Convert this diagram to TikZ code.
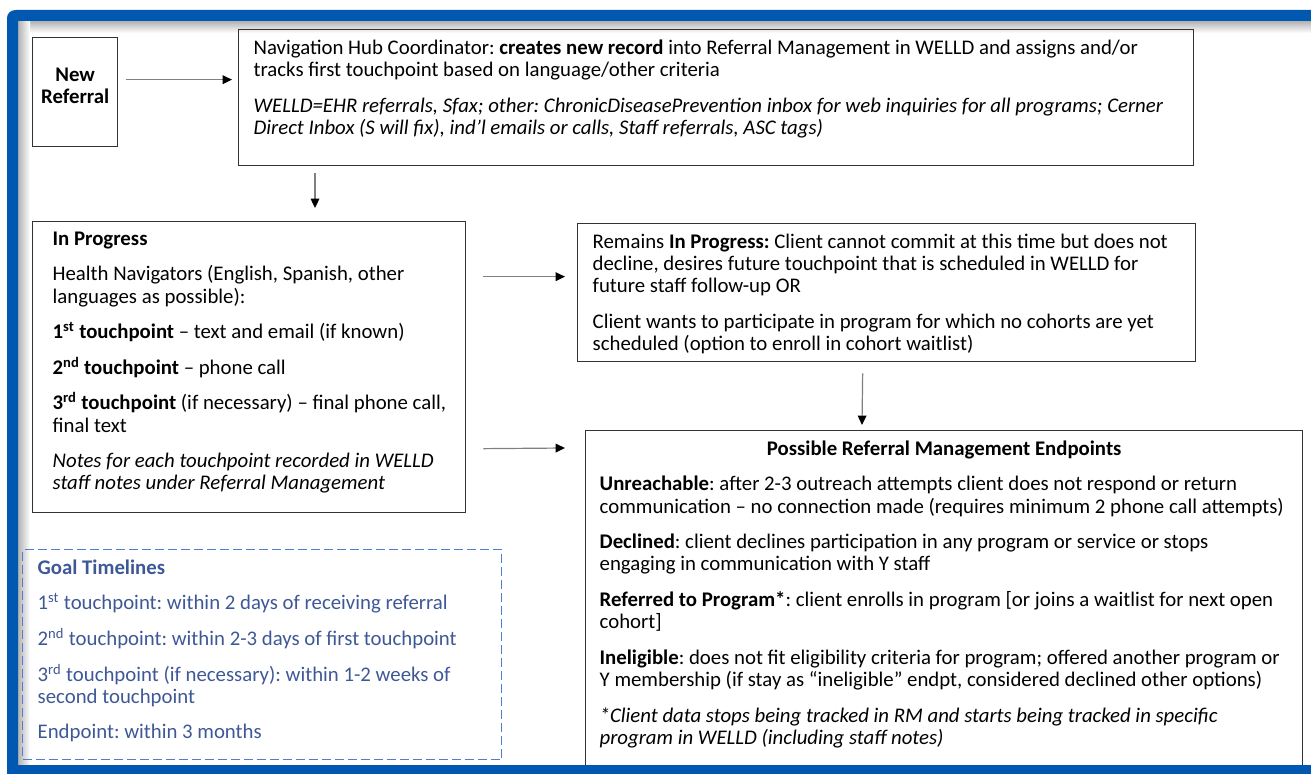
\documentclass[tikz,border=0pt]{standalone}
\usepackage{fontspec}
\setmainfont{Carlito}
\usetikzlibrary{arrows.meta,calc,positioning}
\definecolor{frameblue}{RGB}{0,88,176}
\definecolor{goalblue}{RGB}{62,88,150}
\definecolor{dashblue}{RGB}{80,125,210}
\newdimen\px \px=0.75pt
\newdimen\cellw
% top aligned text block of fixed size (in px), lines may run a little past the right edge
\newcommand{\cell}[3]{\cellw=#1\px\makebox[\cellw][l]{\begin{minipage}[t][#2\px][t]{\dimexpr\cellw+40pt\relax}\raggedright\frenchspacing\lineskiplimit=-10pt\setlength{\parskip}{10pt}#3\end{minipage}}}

\begin{document}
\begin{tikzpicture}[x=0.75pt, y=-0.75pt, font=\fontsize{15.6}{16.7}\selectfont,
    box/.style={draw=black!80, line width=1pt, anchor=north west, inner xsep=11.25pt, inner ysep=7.5pt},
    arr/.style={draw=black!50, line width=0.9pt, -{Triangle[length=7pt,width=6.5pt,color=black]}}]
    \useasboundingbox (0,0) rectangle (1311,774);
    % frame shadow
    \shade[top color=black!30, bottom color=white] (18,21) rectangle (1311,33);
    \shade[left color=black!30, right color=white] (18,21) rectangle (30,765);

    \node[box, minimum width=63.75pt, minimum height=81.75pt, inner sep=0pt,
        label={[yshift=4.5pt, align=center]center:\textbf{New}\\\textbf{Referral}}] at (32,37)(newref){};
    \node[box] at (238,29)(hub){\cell{925}{116}{Navigation Hub Coordinator: \textbf{creates new record} into Referral Management in WELLD and assigns and/or\\
        tracks first touchpoint based on language/other criteria\par
        \textit{WELLD=EHR referrals, Sfax; other: ChronicDiseasePrevention inbox for web inquiries for all programs; Cerner\\
        Direct Inbox (S will fix), ind’l emails or calls, Staff referrals, ASC tags)}}};
    \node[box, inner xsep=15pt] at (32,221)(inprog){\cell{393}{271}{\textbf{In Progress}\par
        Health Navigators (English, Spanish, other\\ languages as possible):\par
        \textbf{1\textsuperscript{st} touchpoint} – text and email (if known)\par
        \textbf{2\textsuperscript{nd} touchpoint} – phone call\par
        \textbf{3\textsuperscript{rd} touchpoint} (if necessary) – final phone call,\\ final text\par
        \textit{Notes for each touchpoint recorded in WELLD\\ staff notes under Referral Management}}};
    \node[box] at (577,223)(remains){\cell{588}{118}{Remains \textbf{In Progress:} Client cannot commit at this time but does not\\
        decline, desires future touchpoint that is scheduled in WELLD for\\ future staff follow-up OR\par
        Client wants to participate in program for which no cohorts are yet\\
        scheduled (option to enroll in cohort waitlist)}};
    \node[box, inner xsep=10.5pt] at (585,430)(endpts){\cell{689}{325}{\makebox[\cellw]{\textbf{Possible Referral Management Endpoints}}\par
        \textbf{Unreachable}: after 2-3 outreach attempts client does not respond or return\\
        communication – no connection made (requires minimum 2 phone call attempts)\par
        \textbf{Declined}: client declines participation in any program or service or stops\\
        engaging in communication with Y staff\par
        \textbf{Referred to Program*}: client enrolls in program [or joins a waitlist for next open\\ cohort]\par
        \textbf{Ineligible}: does not fit eligibility criteria for program; offered another program or\\
        Y membership (if stay as “ineligible” endpt, considered declined other options)\par
        \textit{*Client data stops being tracked in RM and starts being tracked in specific\\
        program in WELLD (including staff notes)}}};
    \node[box, draw=dashblue, line width=1pt, dash pattern=on 6.75pt off 3pt, text=goalblue] at (22,549)(goals){\cell{449}{190}{\textbf{Goal Timelines}\par
        1\textsuperscript{st} touchpoint: within 2 days of receiving referral\par
        2\textsuperscript{nd} touchpoint: within 2-3 days of first touchpoint\par
        3\textsuperscript{rd} touchpoint (if necessary): within 1-2 weeks of\\ second touchpoint\par
        Endpoint: within 3 months}};

    \draw[arr] ($(newref.east)+(8,-12.5)$) -- ($(hub.west)+(-6,-18)$);
    \draw[arr] ($(hub.south west)+(77,7)$) -- ($(inprog.north west)+(283,-13)$);
    \draw[arr] ($(inprog.east)+(17,-90.5)$) -- ($(remains.west)+(-12,-16)$);
    \draw[arr] ($(inprog.east)+(17,81.5)$) -- ($(endpts.north west)+(-20,18)$);
    \draw[arr] ($(remains.south)+(-24,11)$) -- ($(endpts.north west)+(277,-5)$);

    % blue frame
    \fill[frameblue] (7,774) -- (7,18) .. controls (7,13) and (11,10) .. (16,10) -- (1311,10) -- (1311,21) -- (18,21) -- (18,774) -- cycle;
    \fill[frameblue] (7,765) rectangle (1311,774);
\end{tikzpicture}
\end{document}
